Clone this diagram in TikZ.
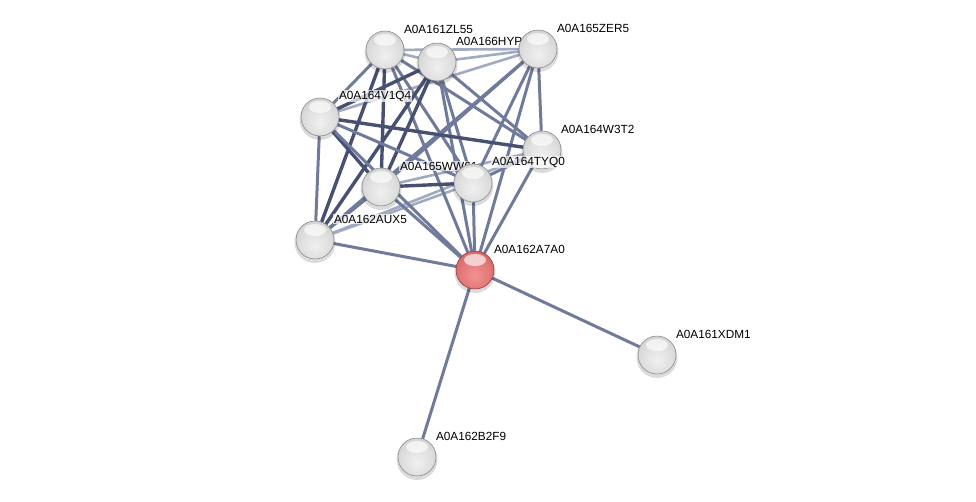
\documentclass[tikz,border=0pt]{standalone}
\usepackage{fontspec}
\setmainfont{Liberation Sans}
\pgfdeclarelayer{edgelayer}
\pgfsetlayers{edgelayer,main}
\definecolor{edgedark}{RGB}{72,80,114}
\definecolor{edgemid}{RGB}{112,122,154}
\definecolor{edgelight}{RGB}{162,170,194}
\definecolor{ga}{RGB}{240,240,240}
\definecolor{gb}{RGB}{224,224,224}
\definecolor{gc}{RGB}{204,204,204}
\definecolor{gd}{RGB}{172,172,172}
\definecolor{ge}{RGB}{128,128,128}
\definecolor{ra}{RGB}{242,146,146}
\definecolor{rb}{RGB}{228,122,122}
\definecolor{rc}{RGB}{208,98,98}
\definecolor{rd}{RGB}{182,70,70}
\definecolor{re}{RGB}{140,40,40}
\pgfdeclareradialshading{greyball}{\pgfpoint{0bp}{-8bp}}{color(0bp)=(ga); color(18bp)=(gb); color(34bp)=(gc); color(45bp)=(gd); color(52bp)=(ge)}
\pgfdeclareradialshading{redball}{\pgfpoint{0bp}{-8bp}}{color(0bp)=(ra); color(18bp)=(rb); color(34bp)=(rc); color(45bp)=(rd); color(52bp)=(re)}
\tikzset{
  ball/.style={circle, minimum size=38pt, inner sep=0pt, shading=greyball, draw=ge, line width=0.5pt},
  redball/.style={circle, minimum size=38pt, inner sep=0pt, shading=redball, draw=re, line width=0.5pt},
  lbl/.style={anchor=west, font=\fontsize{11.8}{13}\selectfont, fill=white, fill opacity=0.7, text opacity=1, inner sep=0.8pt},
  ed/.style={line width=3.4pt, color=edgedark},
  em/.style={line width=3pt, color=edgemid},
  el/.style={line width=2.6pt, color=edgelight},
  shine/.style={white, opacity=0.65},
  shadowc/.style={black, opacity=0.14}
}
% #1 name, #2 x, #3 y, #4 style, #5 label text
\newcommand\stringnode[5]{%
  \fill[shadowc] (#2,#3+2.5) circle (20.5);
  \node[#4] (#1) at (#2,#3) {};
  \fill[shine] (#2,#3-10) ellipse (11 and 6);
  \node[lbl] (l#1) at (#2+18,#3-21) {#5};
}
\begin{document}
\begin{tikzpicture}[x=1pt,y=-1pt]
\useasboundingbox (0,0) rectangle (976,502);
\stringnode{zl}{385}{50}{ball}{A0A161ZL55}
\stringnode{hy}{437}{62}{ball}{A0A166HYP}
\stringnode{ze}{538}{49}{ball}{A0A165ZER5}
\stringnode{v1}{320}{117}{ball}{A0A164V1Q4}
\stringnode{w3}{542}{150}{ball}{A0A164W3T2}
\stringnode{ww}{381}{187}{ball}{A0A165WW61}
\stringnode{ty}{473}{183}{ball}{A0A164TYQ0}
\stringnode{au}{315}{240}{ball}{A0A162AUX5}
\stringnode{a7}{475}{270}{redball}{A0A162A7A0}
\stringnode{xd}{657}{355}{ball}{A0A161XDM1}
\stringnode{b2}{417}{457}{ball}{A0A162B2F9}
% edges
\begin{pgfonlayer}{edgelayer}
\draw[el] (zl) -- (ze);
\draw[el] (zl) -- (hy);
\draw[el] (hy) -- (ze);
\draw[el] (v1) -- (ze);
\draw[el] (au) -- (ty);
\draw[el] (au) -- (w3);
\draw[el] (ww) -- (w3);
\draw[em] (zl) -- (w3);
\draw[em] (zl) -- (ty);
\draw[em] (zl) -- (a7);
\draw[em] (hy) -- (w3);
\draw[em] (hy) -- (ty);
\draw[em] (hy) -- (a7);
\draw[em] (ze) -- (w3);
\draw[em] (ze) -- (ww);
\draw[em] (ze) -- (ty);
\draw[em] (ze) -- (au);
\draw[em] (ze) -- (a7);
\draw[em] (v1) -- (au);
\draw[em] (w3) -- (ty);
\draw[em] (w3) -- (a7);
\draw[em] (ww) -- (au);
\draw[em] (ww) -- (a7);
\draw[em] (ty) -- (a7);
\draw[em] (au) -- (a7);
\draw[em] (a7) -- (xd);
\draw[em] (a7) -- (b2);
\draw[em] (zl) -- (v1);
\draw[ed] (zl) -- (ww);
\draw[ed] (zl) -- (au);
\draw[ed] (hy) -- (v1);
\draw[ed] (hy) -- (ww);
\draw[ed] (hy) -- (au);
\draw[ed] (v1) -- (ww);
\draw[ed] (v1) -- (w3);
\draw[em] (v1) -- (ty);
\draw[em] (v1) -- (a7);
\draw[ed] (ww) -- (ty);
\end{pgfonlayer}
\end{tikzpicture}
\end{document}
